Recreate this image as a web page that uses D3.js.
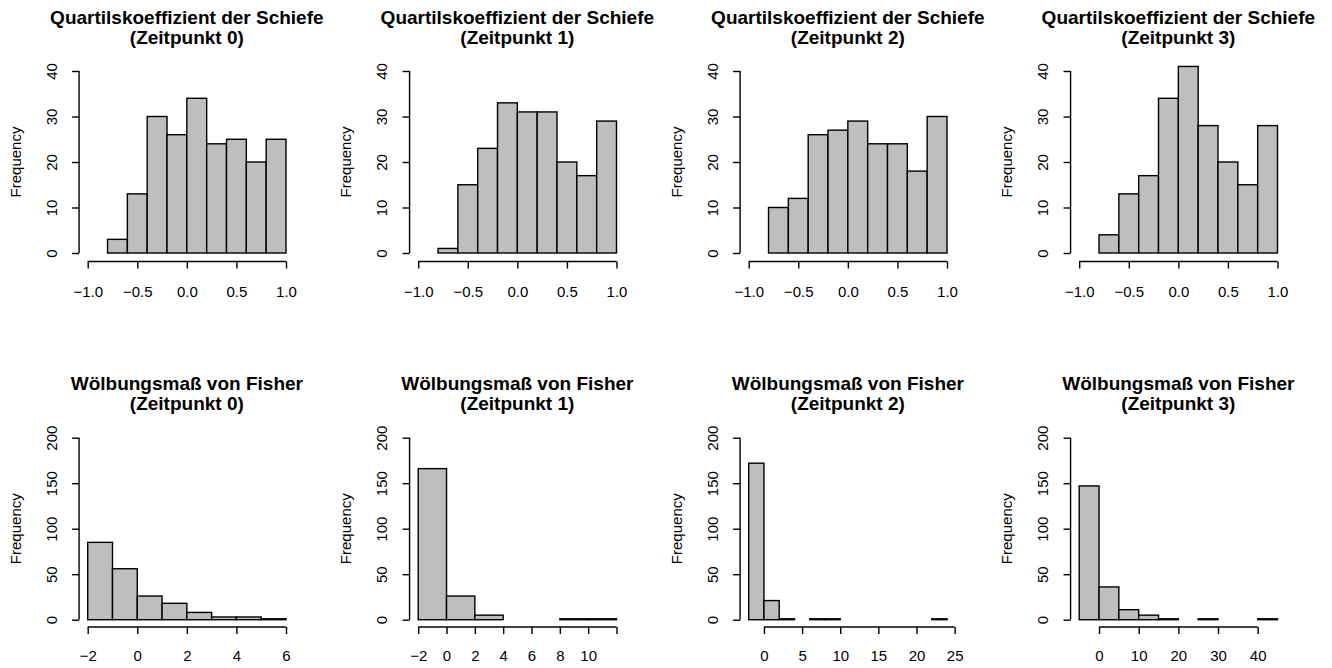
<!DOCTYPE html>
<html>
<head>
<meta charset="utf-8">
<script src="https://cdn.jsdelivr.net/npm/d3@7"></script>
<style>
  html, body { margin: 0; padding: 0; background: #fff; }
  svg { display: block; }
  text { font-family: "Liberation Sans", Arial, sans-serif; fill: #000; }
</style>
</head>
<body>
<svg id="chart" width="1332" height="668"></svg>
<script>
// Histograms of two shape statistics at four time points (Zeitpunkt 0..3)
const zeitpunkte = ["0", "1", "2", "3"];

// Quartilskoeffizient der Schiefe: bin edges and counts per Zeitpunkt
const skewBreaks = [-0.8, -0.6, -0.4, -0.2, 0.0, 0.2, 0.4, 0.6, 0.8, 1.0];
const skewCounts0 = [3, 13, 30, 26, 34, 24, 25, 20, 25];
const skewCounts1 = [1, 15, 23, 33, 31, 31, 20, 17, 29];
const skewCounts2 = [10, 12, 26, 27, 29, 24, 24, 18, 30];
const skewCounts3 = [4, 13, 17, 34, 41, 28, 20, 15, 28];
const skewXDomain = [-1, 1];
const skewXTicks = [-1.0, -0.5, 0.0, 0.5, 1.0];
const skewYTicks = [0, 10, 20, 30, 40];

// Wölbungsmaß von Fisher: bin edges and counts per Zeitpunkt
const kurtBreaks0 = [-2, -1, 0, 1, 2, 3, 4, 5, 6];
const kurtCounts0 = [85, 56, 26, 18, 8, 3, 3, 1];
const kurtBreaks1 = [-2, 0, 2, 4, 6, 8, 10, 12];
const kurtCounts1 = [166, 26, 5, 0, 0, 1, 1];
const kurtBreaks2 = [-2, 0, 2, 4, 6, 8, 10, 12, 14, 16, 18, 20, 22, 24];
const kurtCounts2 = [172, 21, 1, 0, 1, 1, 0, 0, 0, 0, 0, 0, 1];
const kurtBreaks3 = [-5, 0, 5, 10, 15, 20, 25, 30, 35, 40, 45];
const kurtCounts3 = [147, 36, 11, 5, 1, 0, 1, 0, 0, 1];
const kurtXDomains = [[-2, 6], [-2, 12], [-2, 24], [-5, 45]];
const kurtXTicks = [
  [-2, 0, 2, 4, 6],
  [-2, 0, 2, 4, 6, 8, 10, 12],
  [0, 5, 10, 15, 20, 25],
  [0, 10, 20, 30, 40]
];
const kurtXLabelHidden = [[], [12], [], []];
const kurtYTicks = [0, 50, 100, 150, 200];

const skewTitle = "Quartilskoeffizient der Schiefe";
const kurtTitle = "Wölbungsmaß von Fisher";
const yLabel = "Frequency";

// ---- layout ----
const colLeft = [87.7, 418.2, 748.7, 1079.2];   // pixel of first x-domain value
const plotW = 198.3;                              // width of the x domain
const pad = plotW * 0.04;                         // 4% extension of the plot region

const rows = [
  { title: skewTitle, yMax: 40, yTopPx: 71, yZeroPx: 253, axisY: 261.5, tickBase: 296.5, titleBase: 23.5,
    breaks: [skewBreaks, skewBreaks, skewBreaks, skewBreaks],
    counts: [skewCounts0, skewCounts1, skewCounts2, skewCounts3],
    xDomains: [skewXDomain, skewXDomain, skewXDomain, skewXDomain],
    xTicks: [skewXTicks, skewXTicks, skewXTicks, skewXTicks],
    hidden: [[], [], [], []],
    fmt: d3.format(".1f"), yTicks: skewYTicks },
  { title: kurtTitle, yMax: 200, yTopPx: 437.7, yZeroPx: 619.7, axisY: 627, tickBase: 660.5, titleBase: 389.8,
    breaks: [kurtBreaks0, kurtBreaks1, kurtBreaks2, kurtBreaks3],
    counts: [kurtCounts0, kurtCounts1, kurtCounts2, kurtCounts3],
    xDomains: kurtXDomains, xTicks: kurtXTicks, hidden: kurtXLabelHidden,
    fmt: d3.format("d"), yTicks: kurtYTicks }
];

const svg = d3.select("#chart");
const ink = "#000";
const lw = 1.4;

rows.forEach(row => {
  zeitpunkte.forEach((zp, c) => {
    const left = colLeft[c];
    const x = d3.scaleLinear().domain(row.xDomains[c]).range([left, left + plotW]);
    const y = d3.scaleLinear().domain([0, row.yMax]).range([row.yZeroPx, row.yTopPx]);
    const yAxisX = left - pad - 0.7;
    const g = svg.append("g");

    // bars
    const bins = row.counts[c].map((n, i) => ({ x0: row.breaks[c][i], x1: row.breaks[c][i + 1], n }));
    g.selectAll("rect.bar").data(bins).join("rect")
      .attr("class", "bar")
      .attr("x", d => x(d.x0))
      .attr("width", d => x(d.x1) - x(d.x0))
      .attr("y", d => y(d.n))
      .attr("height", d => y(0) - y(d.n))
      .attr("fill", "#bebebe")
      .attr("stroke", ink)
      .attr("stroke-width", lw);

    // x axis: line spans first to last tick
    const xt = row.xTicks[c];
    const xAxis = d3.axisBottom(x).tickValues(xt).tickSize(7).tickSizeOuter(0)
      .tickFormat(d => row.hidden[c].includes(d) ? "" : row.fmt(d));
    const gx = g.append("g").attr("transform", `translate(0,${row.axisY})`).call(xAxis);
    gx.select(".domain").remove();
    gx.append("line")
      .attr("x1", x(xt[0])).attr("x2", x(xt[xt.length - 1]))
      .attr("stroke", ink).attr("stroke-width", lw);
    gx.selectAll(".tick line").attr("stroke", ink).attr("stroke-width", lw);
    gx.selectAll(".tick text")
      .attr("y", row.tickBase - row.axisY).attr("dy", null)
      .attr("font-size", 15).attr("font-family", "Liberation Sans, Arial, sans-serif").attr("fill", ink);

    // y axis with rotated labels
    const yAxis = d3.axisLeft(y).tickValues(row.yTicks).tickSize(7).tickSizeOuter(0).tickFormat(d3.format("d"));
    const gy = g.append("g").attr("transform", `translate(${yAxisX},0)`).call(yAxis);
    gy.select(".domain").remove();
    gy.append("line")
      .attr("y1", y(row.yTicks[0])).attr("y2", y(row.yTicks[row.yTicks.length - 1]))
      .attr("stroke", ink).attr("stroke-width", lw);
    gy.selectAll(".tick line").attr("stroke", ink).attr("stroke-width", lw);
    gy.selectAll(".tick text")
      .attr("x", null).attr("dy", null)
      .attr("transform", "translate(-22.5,0) rotate(-90)")
      .attr("text-anchor", "middle")
      .attr("font-size", 15).attr("font-family", "Liberation Sans, Arial, sans-serif").attr("fill", ink);

    // y axis title
    const regionTop = row.yTopPx - (row.yZeroPx - row.yTopPx) * 0.04;
    const regionBottom = row.yZeroPx + (row.yZeroPx - row.yTopPx) * 0.04;
    g.append("text")
      .attr("transform", `translate(${yAxisX - 58.5},${(regionTop + regionBottom) / 2}) rotate(-90)`)
      .attr("text-anchor", "middle")
      .attr("font-size", 15)
      .text(yLabel);

    // two-line title
    const cx = left + plotW / 2;
    const t = g.append("text").attr("text-anchor", "middle").attr("font-size", 19).attr("font-weight", "bold");
    t.append("tspan").attr("x", cx).attr("y", row.titleBase).text(row.title);
    t.append("tspan").attr("x", cx).attr("y", row.titleBase + 20).text(`(Zeitpunkt ${zp})`);
  });
});
</script>
</body>
</html>
